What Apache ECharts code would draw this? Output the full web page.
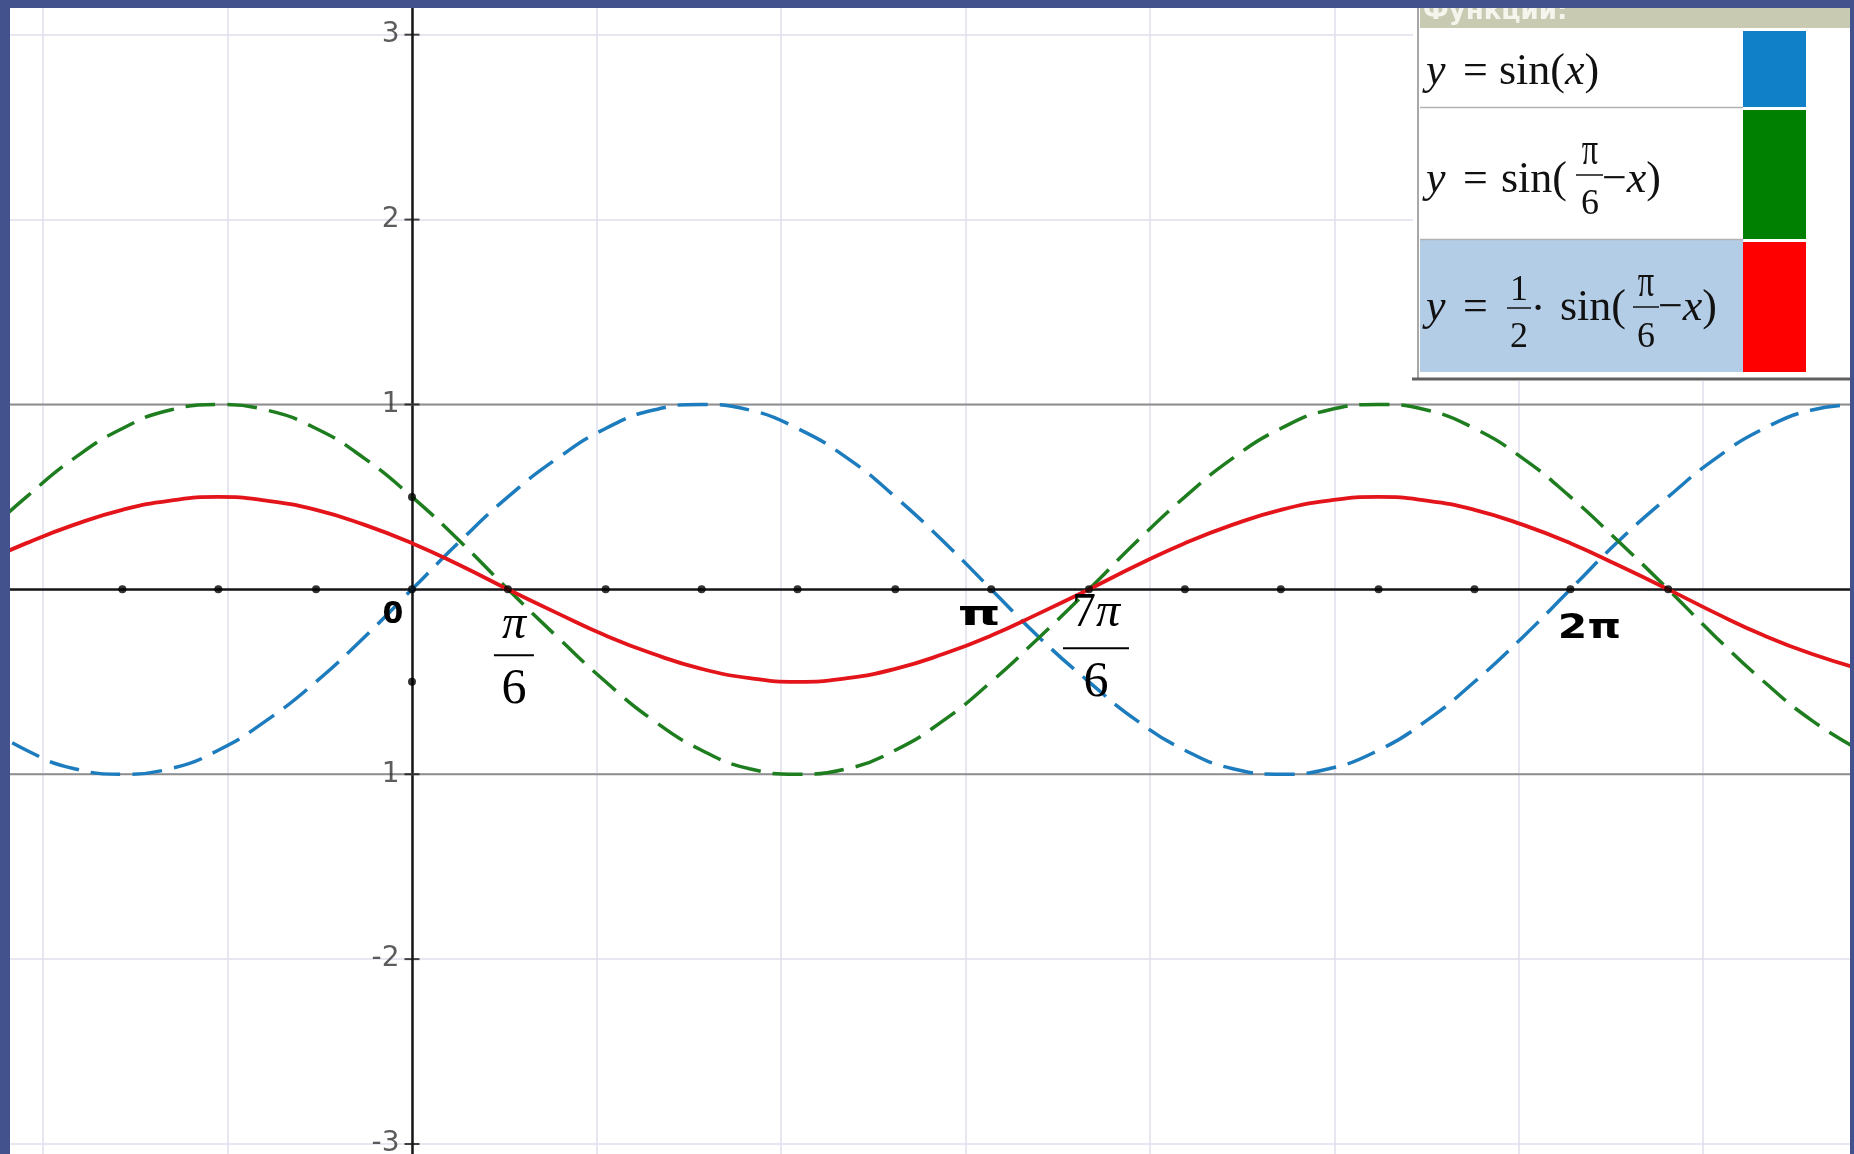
<!DOCTYPE html>
<html>
<head>
<meta charset="utf-8">
<script src="https://cdn.jsdelivr.net/npm/echarts@6/dist/echarts.min.js"></script>
<style>
  html, body { margin: 0; padding: 0; background: #43528c; }
  #chart { width: 1854px; height: 1154px; }
</style>
</head>
<body>
<div id="chart"></div>
<script>
// Sample abscissas (radians), one every π/12 across the visible window
const xs = [-2.36, -2.09, -1.83, -1.57, -1.31, -1.05, -0.79, -0.52, -0.26, 0,
            0.26, 0.52, 0.79, 1.05, 1.31, 1.57, 1.83, 2.09, 2.36, 2.62,
            2.88, 3.14, 3.40, 3.67, 3.93, 4.19, 4.45, 4.71, 4.97, 5.24,
            5.50, 5.76, 6.02, 6.28, 6.54, 6.81, 7.07, 7.33, 7.59, 7.85];

// y = sin(x)
const sinX = [-0.71, -0.87, -0.97, -1, -0.97, -0.87, -0.71, -0.5, -0.26, 0,
              0.26, 0.5, 0.71, 0.87, 0.97, 1, 0.97, 0.87, 0.71, 0.5,
              0.26, 0, -0.26, -0.5, -0.71, -0.87, -0.97, -1, -0.97, -0.87,
              -0.71, -0.5, -0.26, 0, 0.26, 0.5, 0.71, 0.87, 0.97, 1];

// y = sin(π/6 − x)
const sinShift = [0.26, 0.5, 0.71, 0.87, 0.97, 1, 0.97, 0.87, 0.71, 0.5,
                  0.26, 0, -0.26, -0.5, -0.71, -0.87, -0.97, -1, -0.97, -0.87,
                  -0.71, -0.5, -0.26, 0, 0.26, 0.5, 0.71, 0.87, 0.97, 1,
                  0.97, 0.87, 0.71, 0.5, 0.26, 0, -0.26, -0.5, -0.71, -0.87];

// y = 1/2 · sin(π/6 − x)
const halfSinShift = [0.13, 0.25, 0.35, 0.43, 0.48, 0.5, 0.48, 0.43, 0.35, 0.25,
                      0.13, 0, -0.13, -0.25, -0.35, -0.43, -0.48, -0.5, -0.48, -0.43,
                      -0.35, -0.25, -0.13, 0, 0.13, 0.25, 0.35, 0.43, 0.48, 0.5,
                      0.48, 0.43, 0.35, 0.25, 0.13, 0, -0.13, -0.25, -0.35, -0.43];

// Marked points on the x axis (multiples of π/6) and on the y axis
const axisDotsX = [-1.57, -1.05, -0.52, 0, 0.52, 1.05, 1.57, 2.09, 2.62, 3.14,
                   3.67, 4.19, 4.71, 5.24, 5.76, 6.28, 6.81];
const axisDotsY = [0.5, -0.5];

// Horizontal guide levels y = ±1
const boundLevels = [1, -1];

// Axis range and y tick labels
const xRange = [-3, 8];
const yRange = [-4, 4];
const yTickValues = [-3, -2, -1, 1, 2, 3];
const yTickLabels = ['-3', '-2', '1', '1', '2', '3'];

// Labels under the x axis
const plainXLabels = [
  { x: 0, text: '0' },
  { x: 3.14, text: 'π' },
  { x: 6.28, text: '2π' }
];
const fracXLabels = [
  { x: 0.52, num: '{i|π}', den: '6' },
  { x: 3.67, num: '7{i|π}', den: '6' }
];

// Legend
const legendColors = ['#1080c8', '#008000', '#ff0000'];
const legendTitle = 'Функции:';

const BLUE = '#1c7cbd', GREEN = '#1e7d1e', RED = '#e3141a';

const pairs = ys => xs.map((x, i) => [x, ys[i]]);

const chart = echarts.init(document.getElementById('chart'), null, { renderer: 'canvas' });

const option = {
  animation: false,
  backgroundColor: '#ffffff',
  grid: { left: -141.4, right: -33.7, top: -150.2, bottom: -174.9,
          containLabel: false, outerBoundsMode: 'none' },
  xAxis: {
    type: 'value', min: xRange[0], max: xRange[1], interval: 1,
    axisLine: { onZero: true, lineStyle: { color: '#161616', width: 2.5 } },
    axisTick: { show: false },
    axisLabel: { show: false },
    splitLine: { show: true, lineStyle: { color: '#dfdfee', width: 1.5 } }
  },
  yAxis: {
    type: 'value', min: yRange[0], max: yRange[1], interval: 1,
    axisLine: { onZero: true, lineStyle: { color: '#161616', width: 2.5 } },
    axisTick: { show: false },
    axisLabel: { show: false },
    splitLine: { show: true, lineStyle: { color: '#dfdfee', width: 1.5 } }
  },
  series: [
    ...boundLevels.map(v => ({
      type: 'line', silent: true, symbol: 'none', z: 1,
      data: [[xRange[0], v], [xRange[1], v]],
      lineStyle: { color: '#8e8e8e', width: 2 }
    })),
    {
      name: 'y = sin(x)', type: 'line', data: pairs(sinX), smooth: true,
      symbol: 'none', z: 3,
      lineStyle: { color: BLUE, width: 3.5, type: [30, 12] }
    },
    {
      name: 'y = sin(π/6 − x)', type: 'line', data: pairs(sinShift), smooth: true,
      symbol: 'none', z: 3,
      lineStyle: { color: GREEN, width: 3.5, type: [30, 12] }
    },
    {
      name: 'y = 1/2 · sin(π/6 − x)', type: 'line', data: pairs(halfSinShift), smooth: true,
      symbol: 'none', z: 4,
      lineStyle: { color: RED, width: 3.8 }
    },
    {
      // tick crosses and their labels on the y axis
      type: 'scatter', silent: true, z: 5, symbol: 'rect', symbolSize: [15, 2],
      itemStyle: { color: '#161616' },
      label: {
        show: true, position: 'left', distance: 5,
        fontFamily: 'DejaVu Sans', fontSize: 28, color: '#333333',
        formatter: p => yTickLabels[p.dataIndex]
      },
      data: yTickValues.map(v => [0, v])
    },
    {
      type: 'scatter', silent: true, z: 6, symbolSize: 8,
      itemStyle: { color: '#000' },
      data: axisDotsX.map(x => [x, 0]).concat(axisDotsY.map(y => [0, y]))
    }
  ]
};

chart.setOption(option);

const toPx = (x, y) => chart.convertToPixel({ gridIndex: 0 }, [x, y]);

function txt(x, y, text, opts) {
  const o = Object.assign({ size: 44, family: 'Liberation Serif', style: 'normal', weight: 'normal',
                            align: 'left', fill: '#111', z: 100 }, opts || {});
  return {
    type: 'text', x: x, y: y, z: o.z, silent: true,
    scaleX: o.scaleX || 1, scaleY: o.scaleY || 1,
    style: {
      text: text, fill: o.fill,
      fontSize: o.size, fontFamily: o.family, fontStyle: o.style, fontWeight: o.weight,
      align: o.align, verticalAlign: 'middle',
      textAlign: o.align, textVerticalAlign: 'middle',
      rich: { i: { fontStyle: 'italic', fontSize: o.size, fontFamily: o.family, fill: o.fill } }
    }
  };
}
function hline(x1, x2, y, color, w, z) {
  return { type: 'line', silent: true, z: z || 100,
           shape: { x1: x1, y1: y, x2: x2, y2: y }, style: { stroke: color, lineWidth: w } };
}
function rect(x, y, w, h, fill, z) {
  return { type: 'rect', silent: true, z: z || 99,
           shape: { x: x, y: y, width: w, height: h }, style: { fill: fill } };
}

const graphics = [];

// x-axis labels: 0, π, 2π  (offset x, offset y, horizontal stretch, size)
const plainOffsets = [[-19, 26, 1.0, 30], [-12, 27, 1.6, 34], [19, 40, 1.25, 34]];
plainXLabels.forEach((l, k) => {
  const p = toPx(l.x, 0);
  const off = plainOffsets[k];
  graphics.push(txt(p[0] + off[0], p[1] + off[1], l.text,
    { size: off[3], family: 'DejaVu Sans', weight: 'bold', align: 'center', fill: '#000', z: 50,
      scaleX: off[2] }));
});

// x-axis labels: π/6 and 7π/6 as stacked fractions
const fracLayout = [
  { dx: 6, num: 36, bar: 66, den: 101, half: 20 },
  { dx: 7, num: 24, bar: 59, den: 94, half: 33 }
];
fracXLabels.forEach((l, k) => {
  const p = toPx(l.x, 0);
  const f = fracLayout[k];
  const cx = p[0] + f.dx;
  graphics.push(txt(cx, p[1] + f.num, l.num, { size: 48, align: 'center', fill: '#000', z: 50 }));
  graphics.push(hline(cx - f.half, cx + f.half, p[1] + f.bar, '#000', 2, 50));
  graphics.push(txt(cx, p[1] + f.den, l.den, { size: 50, align: 'center', fill: '#000', z: 50 }));
});

// Legend panel
graphics.push(rect(1413, 0, 441, 381, '#ffffff', 98));
graphics.push(rect(1420, 0, 434, 28, '#c8cab2'));
graphics.push(txt(1423, 12, legendTitle, { size: 26, family: 'DejaVu Sans', weight: 'bold', fill: '#f5f5ee' }));
graphics.push({ type: 'line', silent: true, z: 100, shape: { x1: 1418, y1: 0, x2: 1418, y2: 378 },
                style: { stroke: '#a8a8a8', lineWidth: 2 } });
graphics.push(rect(1420, 240, 323, 132, '#b4cde6'));
graphics.push(hline(1420, 1743, 107.5, '#b2b2b2', 1.5));
graphics.push(hline(1420, 1743, 239.5, '#b2b2b2', 1.5));
graphics.push(hline(1412, 1850, 379, '#606060', 3));
const swatchRows = [[31, 76], [110, 129], [242, 130]];
legendColors.forEach((c, i) => graphics.push(rect(1743, swatchRows[i][0], 63, swatchRows[i][1], c, 100)));

const PI_STRETCH = { size: 36, align: 'center', scaleX: 0.9, scaleY: 1.3 };

// Row 1: y = sin(x)
graphics.push(txt(1426, 72, '{i|y}'));
graphics.push(txt(1463, 72, '='));
graphics.push(txt(1499, 72, 'sin({i|x})'));
// Row 2: y = sin(π/6 − x)
graphics.push(txt(1426, 180, '{i|y}'));
graphics.push(txt(1463, 180, '='));
graphics.push(txt(1501, 180, 'sin('));
graphics.push(txt(1590, 152, 'π', PI_STRETCH));
graphics.push(hline(1576, 1603, 175, '#111', 1.5));
graphics.push(txt(1590, 205, '6', { size: 36, align: 'center' }));
graphics.push(txt(1602, 180, '−{i|x})'));
// Row 3: y = 1/2 · sin(π/6 − x)
graphics.push(txt(1426, 308, '{i|y}'));
graphics.push(txt(1463, 308, '='));
graphics.push(txt(1519, 291, '1', { size: 36, align: 'center' }));
graphics.push(hline(1507, 1531, 308, '#111', 1.5));
graphics.push(txt(1519, 338, '2', { size: 36, align: 'center' }));
graphics.push(txt(1538, 310, '·', { align: 'center' }));
graphics.push(txt(1560, 308, 'sin('));
graphics.push(txt(1646, 284, 'π', PI_STRETCH));
graphics.push(hline(1633, 1659, 307, '#111', 1.5));
graphics.push(txt(1646, 338, '6', { size: 36, align: 'center' }));
graphics.push(txt(1658, 308, '−{i|x})'));

// Blue frame around the drawing
graphics.push(rect(0, 0, 1854, 8, '#43528c', 120));
graphics.push(rect(0, 0, 10, 1154, '#43528c', 120));
graphics.push(rect(1850, 0, 4, 1154, '#43528c', 120));

chart.setOption({ graphic: { elements: graphics } });
</script>
</body>
</html>
